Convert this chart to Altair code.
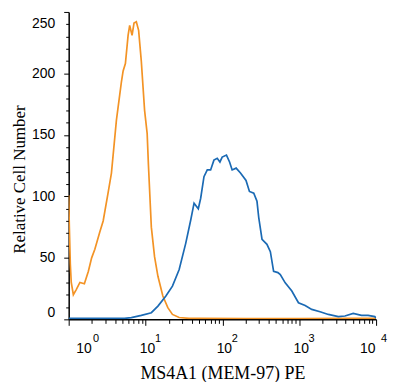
import altair as alt
import pandas as pd

# Isotype control (orange) : fluorescence value, relative cell number
iso_x = [1.00, 1.02, 1.05, 1.08, 1.15, 1.25, 1.40, 1.60, 1.80, 1.99, 2.19, 2.54, 2.81,
         3.26, 3.60, 4.18, 4.85, 5.11, 5.47, 5.93, 6.22, 6.68, 7.08, 7.59, 8.13, 8.81,
         9.72, 10.5, 10.9, 11.9, 13.1, 14.5, 16.8, 19.5, 22.4, 27.4, 36.8, 50, 200,
         1000, 5000, 10000]
iso_y = [101, 75, 45, 30, 20, 24, 30, 29, 39, 50, 57, 71, 80,
         103, 119, 162, 193, 202, 208, 231, 239, 231, 241, 242, 235, 210,
         170, 151, 126, 75, 51, 35, 19, 9.5, 4, 1.5, 0.8, 0.8, 0.7,
         0.7, 0.8, 0.8]

# MS4A1 (MEM-97) PE (blue)
ms_x = [1.00, 2.52, 5.31, 6.54, 8.81, 11.9, 14.5, 18.4, 22.4, 27.4, 33.4, 38.8, 42.8,
        48.6, 52.2, 57.6, 63.6, 70.3, 77.6, 85.7, 92.9, 99.4, 113, 124, 134, 151,
        172, 203, 225, 256, 282, 297, 328, 380, 421, 464, 528, 567, 657, 801, 977,
        1194, 1455, 1867, 2393, 3222, 3935, 5035, 6452, 7870, 9614, 10000]
ms_y = [0.8, 0.8, 0.8, 1.4, 3.2, 5.4, 10.8, 19, 27, 40.5, 62, 81, 94.5,
        90, 98.5, 116, 121.5, 121.5, 129.5, 131, 128, 132, 133.6, 128, 121.5, 123,
        119, 113, 104, 102.6, 96, 83, 65, 61, 55, 39, 38, 36.4, 29.7, 23, 13.5,
        11.3, 8.1, 6.2, 4, 2.2, 2.7, 4.9, 3.2, 3.2, 2.2, 1]

series_names = ["Isotype control", "MS4A1 (MEM-97) PE"]
series_colors = ["#F39325", "#1B6AB4"]

x_major = [1, 10, 100, 1000, 10000]
x_minor = [m * 10 ** d for d in range(4) for m in range(2, 10)]
y_major = [0, 50, 100, 150, 200, 250]
y_minor = [v for v in range(10, 250, 10) if v % 50]

df = pd.concat([
    pd.DataFrame({"x": iso_x, "count": iso_y, "series": series_names[0]}),
    pd.DataFrame({"x": ms_x, "count": ms_y, "series": series_names[1]}),
], ignore_index=True)

SANS = "Liberation Sans"
SERIF = "Liberation Serif"


def xs():
    return alt.Scale(type="log", domain=[1, 10000], nice=False)


def ys():
    return alt.Scale(domain=[0, 250], nice=False, zero=True)


x_axis_main = alt.Axis(
    orient="bottom", values=x_major, labelExpr="'10'", grid=False,
    domain=True, domainColor="black", domainWidth=1.5,
    ticks=True, tickColor="black", tickSize=6, tickWidth=1,
    labelFont=SANS, labelFontSize=14, labelColor="black",
    labelBaseline="alphabetic", labelAlign="center", labelPadding=27,
    labelOverlap=False, labelBound=False, labelFlush=False,
    labelOffset={"condition": [{"test": "datum.value == 1", "value": 15},
                               {"test": "datum.value == 10000", "value": -9}],
                 "value": 1.5},
    title="MS4A1 (MEM-97) PE", titleFont=SERIF, titleFontSize=18,
    titleFontWeight="normal", titleColor="black",
    titleBaseline="alphabetic", titleY=59,
)

x_axis_sup = alt.Axis(
    orient="bottom", values=x_major,
    labelExpr="format(round(log(datum.value) / LN10), 'd')", grid=False,
    domain=False, ticks=False, tickSize=0,
    labelFont=SANS, labelFontSize=11, labelColor="black",
    labelBaseline="alphabetic", labelAlign="center", labelPadding=22,
    labelOverlap=False, labelBound=False, labelFlush=False,
    labelOffset={"condition": [{"test": "datum.value == 1", "value": 27},
                               {"test": "datum.value == 10000", "value": 7.5}],
                 "value": 12},
    title=None,
)

x_axis_minor = alt.Axis(
    orient="bottom", values=x_minor, labels=False, grid=False, domain=False,
    ticks=True, tickColor="black", tickSize=4, tickWidth=1, title=None,
)

y_axis_main = alt.Axis(
    orient="left", values=y_major, grid=False,
    domain=True, domainColor="black", domainWidth=1.5,
    ticks=True, tickColor="black", tickSize=5, tickWidth=1,
    labelFont=SANS, labelFontSize=14, labelColor="black", labelPadding=9,
    labelFlush=True, labelOverlap=False, labelBound=False,
    labelOffset={"condition": {"test": "datum.value == 250", "value": 5}, "value": 0},
    title="Relative Cell Number", titleFont=SERIF, titleFontSize=17,
    titleFontWeight="normal", titleColor="black", titleAngle=270,
    titleBaseline="alphabetic", titleAlign="center", titleX=-44, titleY=168,
)

y_axis_minor = alt.Axis(
    orient="left", values=y_minor, labels=False, grid=False, domain=False,
    ticks=True, tickColor="black", tickSize=3, tickWidth=1, title=None,
)

base = alt.Chart(df)

color = alt.Color("series:N", scale=alt.Scale(domain=series_names, range=series_colors),
                  legend=None)

lines = base.mark_line(strokeWidth=1.7, clip=True).encode(
    x=alt.X("x:Q", scale=xs(), axis=x_axis_main),
    y=alt.Y("count:Q", scale=ys(), axis=y_axis_main),
    color=color,
    detail="series:N",
)

ghost1 = base.mark_line(opacity=0).encode(
    x=alt.X("x:Q", scale=xs(), axis=x_axis_sup),
    y=alt.Y("count:Q", scale=ys(), axis=y_axis_minor),
    detail="series:N",
)

ghost2 = base.mark_line(opacity=0).encode(
    x=alt.X("x:Q", scale=xs(), axis=x_axis_minor),
    y=alt.Y("count:Q", scale=ys(), axis=None),
    detail="series:N",
)

chart = alt.layer(lines, ghost1, ghost2).resolve_scale(
    x="independent", y="independent"
).resolve_axis(
    x="independent", y="independent"
).properties(
    width=309, height=309,
    autosize=alt.AutoSizeParams(type="none"),
    padding={"left": 61, "top": 3, "right": 16, "bottom": 62},
    background="white",
).configure_view(stroke=None)

chart.save("out.html", embed_options={"renderer": "svg", "actions": False})
